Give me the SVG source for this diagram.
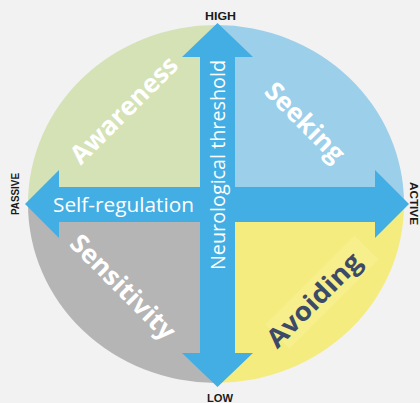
<svg xmlns="http://www.w3.org/2000/svg" width="420" height="403" viewBox="0 0 420 403">
  <style>
    .axis-label { font-family: "Liberation Sans", Arial, sans-serif; font-weight: bold; font-size: 11px; fill: #1a1a1a; text-anchor: middle; }
    .quad-label { font-family: "Open Sans", "Liberation Sans", sans-serif; font-weight: bold; font-size: 26px; fill: #ffffff; text-anchor: middle; }
    .arrow-label { font-family: "Open Sans", "Liberation Sans", sans-serif; font-size: 20px; fill: #ffffff; text-anchor: middle; }
    .arrow { fill: #43aee3; }
  </style>
  <rect x="0" y="0" width="420" height="403" fill="#f2f2f2"/>

  <g id="awareness">
    <path d="M216,204 L28,204 A188,179 0 0 1 216,25 Z" fill="#d4e2b5"/>
    <text class="quad-label" transform="translate(124,110) rotate(-45)" y="9" textLength="140" lengthAdjust="spacingAndGlyphs">Awareness</text>
  </g>
  <g id="seeking">
    <path d="M216,204 L216,25 A188,179 0 0 1 404,204 Z" fill="#9bcfea"/>
    <text class="quad-label" transform="translate(305,122) rotate(45)" y="9" textLength="101" lengthAdjust="spacingAndGlyphs">Seeking</text>
  </g>
  <g id="sensitivity">
    <path d="M216,204 L216,383 A188,179 0 0 1 28,204 Z" fill="#b5b5b5"/>
    <text class="quad-label" transform="translate(123,287) rotate(45)" y="9" textLength="137" lengthAdjust="spacingAndGlyphs">Sensitivity</text>
  </g>
  <g id="avoiding">
    <path d="M216,204 L404,204 A188,179 0 0 1 216,383 Z" fill="#f5ec80"/>
    <rect x="-63" y="-17" width="126" height="34" fill="#f6ef8c" transform="translate(322,292) rotate(-45)"/>
    <text class="quad-label" transform="translate(314,300) rotate(-45)" y="9" textLength="122" lengthAdjust="spacingAndGlyphs" style="fill:#3c4a68">Avoiding</text>
  </g>

  <g id="connectors">
    <polygon id="self-regulation-axis" class="arrow" points="25,204 59,170 59,187 375,187 375,170 409,204 375,238 375,222 59,222 59,238"/>
    <polygon id="threshold-axis" class="arrow" points="217.5,23 253,57 235,57 235,353 253,353 217.5,387 182,353 200,353 200,57 182,57"/>
  </g>

  <g id="axis-texts">
    <text class="arrow-label" x="123.5" y="212" textLength="141" lengthAdjust="spacingAndGlyphs">Self-regulation</text>
    <text class="arrow-label" transform="translate(224.5,165) rotate(-90)" textLength="210" lengthAdjust="spacingAndGlyphs">Neurological threshold</text>
  </g>

  <g id="poles">
    <text class="axis-label" x="220.5" y="19.5" textLength="31" lengthAdjust="spacingAndGlyphs">HIGH</text>
    <text class="axis-label" x="220" y="402" textLength="26" lengthAdjust="spacingAndGlyphs">LOW</text>
    <text class="axis-label" transform="translate(19,194) rotate(-90)" textLength="42" lengthAdjust="spacingAndGlyphs">PASSIVE</text>
    <text class="axis-label" transform="translate(410,203.5) rotate(90)" textLength="43" lengthAdjust="spacingAndGlyphs">ACTIVE</text>
  </g>
</svg>
